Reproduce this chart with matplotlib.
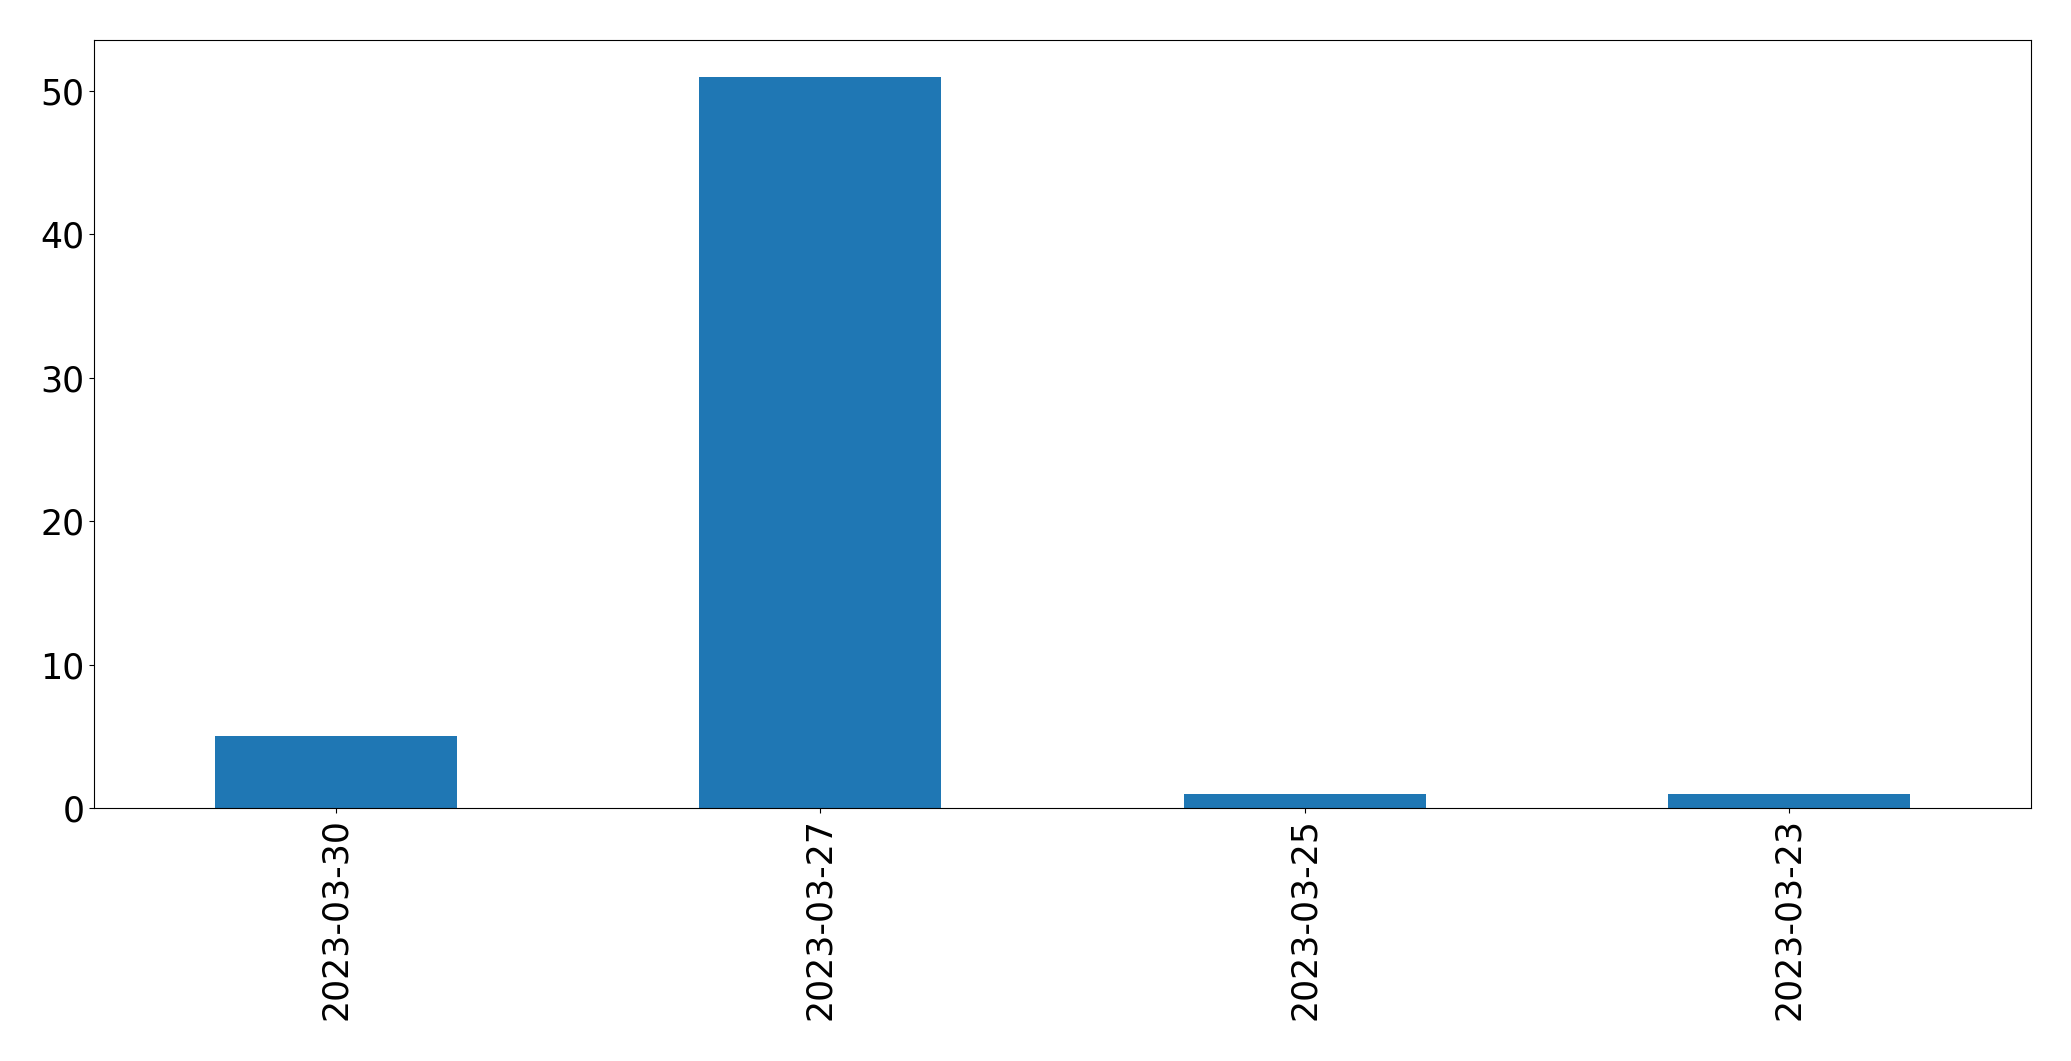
import matplotlib
matplotlib.use("Agg")
import matplotlib.pyplot as plt
import pandas as pd

# daily counts, in the order shown
dates = ["2023-03-30", "2023-03-27", "2023-03-25", "2023-03-23"]
counts = [5, 51, 1, 1]

series = pd.Series(counts, index=dates)

fig = plt.figure(figsize=(20.71, 10.61), dpi=100)
ax = fig.add_axes([0.0454, 0.2385, 0.9353, 0.7238])
series.plot(kind="bar", ax=ax, color="#1f77b4")
ax.tick_params(axis="both", labelsize=25)

fig.savefig("out.png", dpi=100)
